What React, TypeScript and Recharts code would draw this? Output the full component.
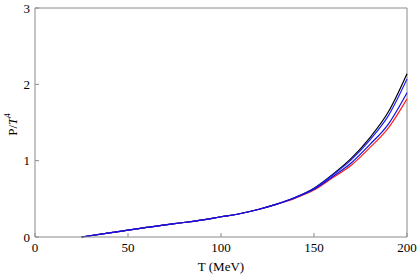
import { LineChart, Line, XAxis, YAxis, ReferenceLine } from 'recharts';

// temperature grid (MeV)
const temps = [25, 40, 50, 60, 70, 80, 90, 100, 110, 120, 130, 140, 150, 160, 170, 180, 190, 200];

// P/T^4 for each curve
const blackCurve = [0, 0.055, 0.09, 0.125, 0.16, 0.19, 0.225, 0.265, 0.305, 0.36, 0.43, 0.52, 0.64, 0.82, 1.03, 1.3, 1.64, 2.14];
const blueUpper = [0, 0.055, 0.09, 0.125, 0.16, 0.19, 0.225, 0.265, 0.305, 0.36, 0.43, 0.52, 0.635, 0.81, 1.01, 1.27, 1.59, 2.07];
const blueLower = [0, 0.055, 0.09, 0.125, 0.16, 0.19, 0.225, 0.265, 0.305, 0.36, 0.43, 0.515, 0.625, 0.79, 0.97, 1.21, 1.48, 1.89];
const redCurve = [0, 0.055, 0.09, 0.125, 0.16, 0.19, 0.225, 0.265, 0.305, 0.36, 0.43, 0.51, 0.615, 0.775, 0.94, 1.17, 1.43, 1.81];

const xTicks = [0, 50, 100, 150, 200];
const yTicks = [0, 1, 2, 3];

const data = temps.map((t, i) => ({
  t,
  black: blackCurve[i],
  blueUp: blueUpper[i],
  blueLow: blueLower[i],
  red: redCurve[i],
}));

const font = "'Liberation Serif', 'DejaVu Serif', serif";
const frame = '#8a8a8a';

export default function App() {
  return (
    <div style={{ position: 'absolute', left: 0, top: 0, width: 417, height: 275, background: '#fff' }}>
      <LineChart width={417} height={275} data={data} margin={{ top: 8, right: 10, left: 0, bottom: 0 }}>
        <XAxis
          dataKey="t"
          type="number"
          domain={[0, 200]}
          ticks={xTicks}
          stroke={frame}
          tickSize={-4}
          tickMargin={10}
          tick={{ fill: '#000', fontSize: 13, fontFamily: font }}
          height={38}
          label={(props: any) => {
            const vb = props.viewBox;
            return (
              <text x={vb.x + vb.width / 2} y={271} textAnchor="middle" fontSize={13} fontFamily={font} fill="#000">
                T (MeV)
              </text>
            );
          }}
        />
        <YAxis
          type="number"
          domain={[0, 3]}
          ticks={yTicks}
          stroke={frame}
          tickSize={-4}
          tickMargin={9}
          width={35}
          tick={{ fill: '#000', fontSize: 13, fontFamily: font }}
          label={(props: any) => {
            const vb = props.viewBox;
            const cx = 12;
            const cy = vb.y + vb.height / 2 + 2;
            return (
              <text
                x={cx}
                y={cy}
                transform={`rotate(-90, ${cx}, ${cy})`}
                textAnchor="middle"
                dominantBaseline="central"
                fontSize={13}
                fontFamily={font}
                fill="#000"
              >
                P/<tspan fontStyle="italic">T</tspan>
                <tspan dy={-5} fontSize={9}>4</tspan>
              </text>
            );
          }}
        />
        <ReferenceLine y={3} stroke={frame} />
        <ReferenceLine x={200} stroke={frame} />
        <Line dataKey="black" type="monotone" stroke="#000" strokeWidth={1.2} dot={false} isAnimationActive={false} />
        <Line dataKey="red" type="monotone" stroke="#ff2020" strokeWidth={1.2} dot={false} isAnimationActive={false} />
        <Line dataKey="blueUp" type="monotone" stroke="#2020ff" strokeWidth={1.2} dot={false} isAnimationActive={false} />
        <Line dataKey="blueLow" type="monotone" stroke="#1010e0" strokeWidth={1.2} dot={false} isAnimationActive={false} />
      </LineChart>
    </div>
  );
}
